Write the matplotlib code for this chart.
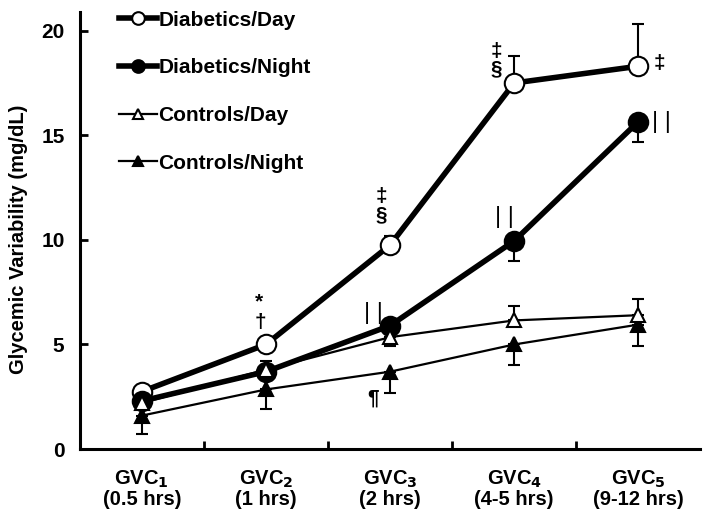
import matplotlib
matplotlib.use("Agg")
import matplotlib.pyplot as plt
import numpy as np

plt.rcParams['font.family'] = ['Liberation Sans', 'DejaVu Sans']
plt.rcParams['font.weight'] = 'bold'

labels = ['GVC$_\\mathbf{1}$\n(0.5 hrs)', 'GVC$_\\mathbf{2}$\n(1 hrs)', 'GVC$_\\mathbf{3}$\n(2 hrs)',
          'GVC$_\\mathbf{4}$\n(4-5 hrs)', 'GVC$_\\mathbf{5}$\n(9-12 hrs)']
diab_day = [2.75, 5.0, 9.75, 17.5, 18.3]
diab_night = [2.3, 3.7, 5.9, 9.95, 15.65]
ctrl_day = [2.2, 3.8, 5.35, 6.15, 6.4]
ctrl_night = [1.6, 2.85, 3.7, 5.0, 5.95]
# [lower, upper] error bars
diab_day_err = [[0, 0, 0, 0, 0], [0, 0, 0.45, 1.3, 2.0]]
diab_night_err = [[0, 0, 0, 0.95, 0.95], [0, 0, 0, 0, 0]]
ctrl_day_err = [[0, 0, 0.4, 0, 0], [0, 0.4, 0, 0.7, 0.75]]
ctrl_night_err = [[0.9, 0.95, 1.0, 1.0, 1.0], [0, 0, 0, 0, 0]]

x = np.arange(len(labels)) + 0.5

fig = plt.figure(figsize=(7.06, 5.15), dpi=100)
ax = fig.add_axes([0.113, 0.128, 0.879, 0.849])

def series(vals, err, lw, marker, mfc, ms, label, z):
    ax.errorbar(x, vals, yerr=err, fmt='none', ecolor='black', elinewidth=1.5,
                capsize=4, capthick=1.5, zorder=z)
    ax.plot(x, vals, color='black', lw=lw, marker=marker, mfc=mfc, mec='black',
            mew=1.5, ms=ms, label=label, zorder=z + 0.5)

series(diab_day, diab_day_err, 4, 'o', 'white', 14, 'Diabetics/Day', 3)
series(diab_night, diab_night_err, 4, 'o', 'black', 14, 'Diabetics/Night', 4)
series(ctrl_night, ctrl_night_err, 1.6, '^', 'black', 10, 'Controls/Night', 5)
series(ctrl_day, ctrl_day_err, 1.6, '^', 'white', 10, 'Controls/Day', 6)

# significance marks, offset from their data points
def mark(text, xi, yv, dx, dy, size=15, weight='bold'):
    ax.annotate(text, xy=(x[xi], yv), xytext=(dx, dy), textcoords='offset points',
                ha='center', va='center', fontsize=size, fontweight=weight)

mark('*', 1, diab_day[1], -5, 31)
mark('†', 1, diab_day[1], -4, 16)
mark('‡', 2, diab_day[2], -6, 35)
mark('§', 2, diab_day[2], -6, 22)
mark('‡', 3, diab_day[3], -13, 23)
mark('§', 3, diab_day[3], -13, 10)
mark('‡', 4, diab_day[4], 15, 2)
mark('| |', 4, diab_night[4], 17, 0, 17, 'normal')
mark('| |', 3, diab_night[3], -7, 17, 17, 'normal')
mark('| |', 2, diab_night[2], -12, 9, 17, 'normal')
mark('¶', 2, ctrl_night[2], -12, -19)

ax.set_xlim(0, 5)
ax.set_ylim(0, 20.9)
ax.set_xticks(np.arange(1, 5))
ax.set_xticklabels([])
ax.set_xticks(x, minor=True)
ax.set_xticklabels(labels, minor=True, fontsize=14.5, fontweight='bold', linespacing=1.0)
ax.tick_params(axis='x', which='minor', length=0, pad=14)
ax.tick_params(axis='x', which='major', direction='in', length=6, width=2)
ax.set_yticks([0, 5, 10, 15, 20])
ax.tick_params(axis='y', direction='in', length=6, width=2, labelsize=15, pad=11)
for t in ax.get_yticklabels():
    t.set_fontweight('bold')
ax.set_ylabel('Glycemic Variability (mg/dL)', fontsize=14.5, fontweight='bold')
ax.yaxis.set_label_coords(-0.083, 0.48)

for s in ['top', 'right']:
    ax.spines[s].set_visible(False)
for s in ['left', 'bottom']:
    ax.spines[s].set_linewidth(2.2)

h, l = ax.get_legend_handles_labels()
order = [0, 1, 3, 2]
ax.legend([h[i] for i in order], [l[i] for i in order], loc='upper left',
          bbox_to_anchor=(0.142, 1.016), bbox_transform=fig.transFigure,
          frameon=False, prop={'weight': 'bold', 'size': 15},
          markerscale=0.65, handlelength=1.8, handletextpad=0.1, labelspacing=1.38)

fig.savefig('out.png', dpi=100)
